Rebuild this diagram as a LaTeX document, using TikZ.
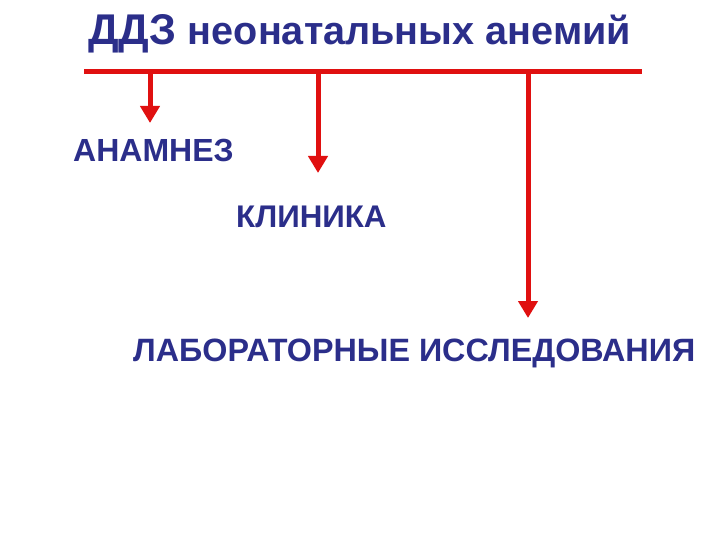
\documentclass[tikz,border=0pt]{standalone}
\usepackage{fontspec}
\setmainfont{Liberation Sans}
\usetikzlibrary{arrows.meta}
\definecolor{navy}{HTML}{2B2E8A}
\definecolor{redline}{HTML}{E01010}
\begin{document}
\begin{tikzpicture}[x=1pt,y=-1pt,
  lbl/.style={anchor=base west,inner sep=0pt,text=navy,font=\bfseries\fontsize{32}{36}\selectfont},
  bar/.style={draw=redline,line width=5pt},
  arr/.style={draw=redline,line width=5pt,-{Triangle[width=19pt,length=17pt]}}]
\useasboundingbox (0,0) rectangle (720,540);
\node[anchor=base west,inner sep=0pt,text=navy,font=\bfseries\fontsize{39.6}{44}\selectfont] (title) at (88,45) {{\fontsize{43}{48}\selectfont ДДЗ} неонатальных анемий};
\node[lbl] (anam) at (73,162) {АНАМНЕЗ};
\node[lbl,font=\bfseries\fontsize{31.3}{36}\selectfont] (klin) at (236,227) {КЛИНИКА};
\node[lbl,font=\bfseries\fontsize{32.3}{36}\selectfont] (lab) at (133,361) {ЛАБОРАТОРНЫЕ ИССЛЕДОВАНИЯ};
\coordinate (L) at (84,72);
\coordinate (R) at (642,72);
\coordinate (s1) at (150,72);
\coordinate (s2) at (318,72);
\coordinate (s3) at (528,72);
\coordinate (e1) at (150,123);
\coordinate (e2) at (318,173);
\coordinate (e3) at (528,318);
\draw[bar] (L) -- (R);
\draw[arr] (s1) -- (e1);
\draw[arr] (s2) -- (e2);
\draw[arr] (s3) -- (e3);
\end{tikzpicture}
\end{document}
